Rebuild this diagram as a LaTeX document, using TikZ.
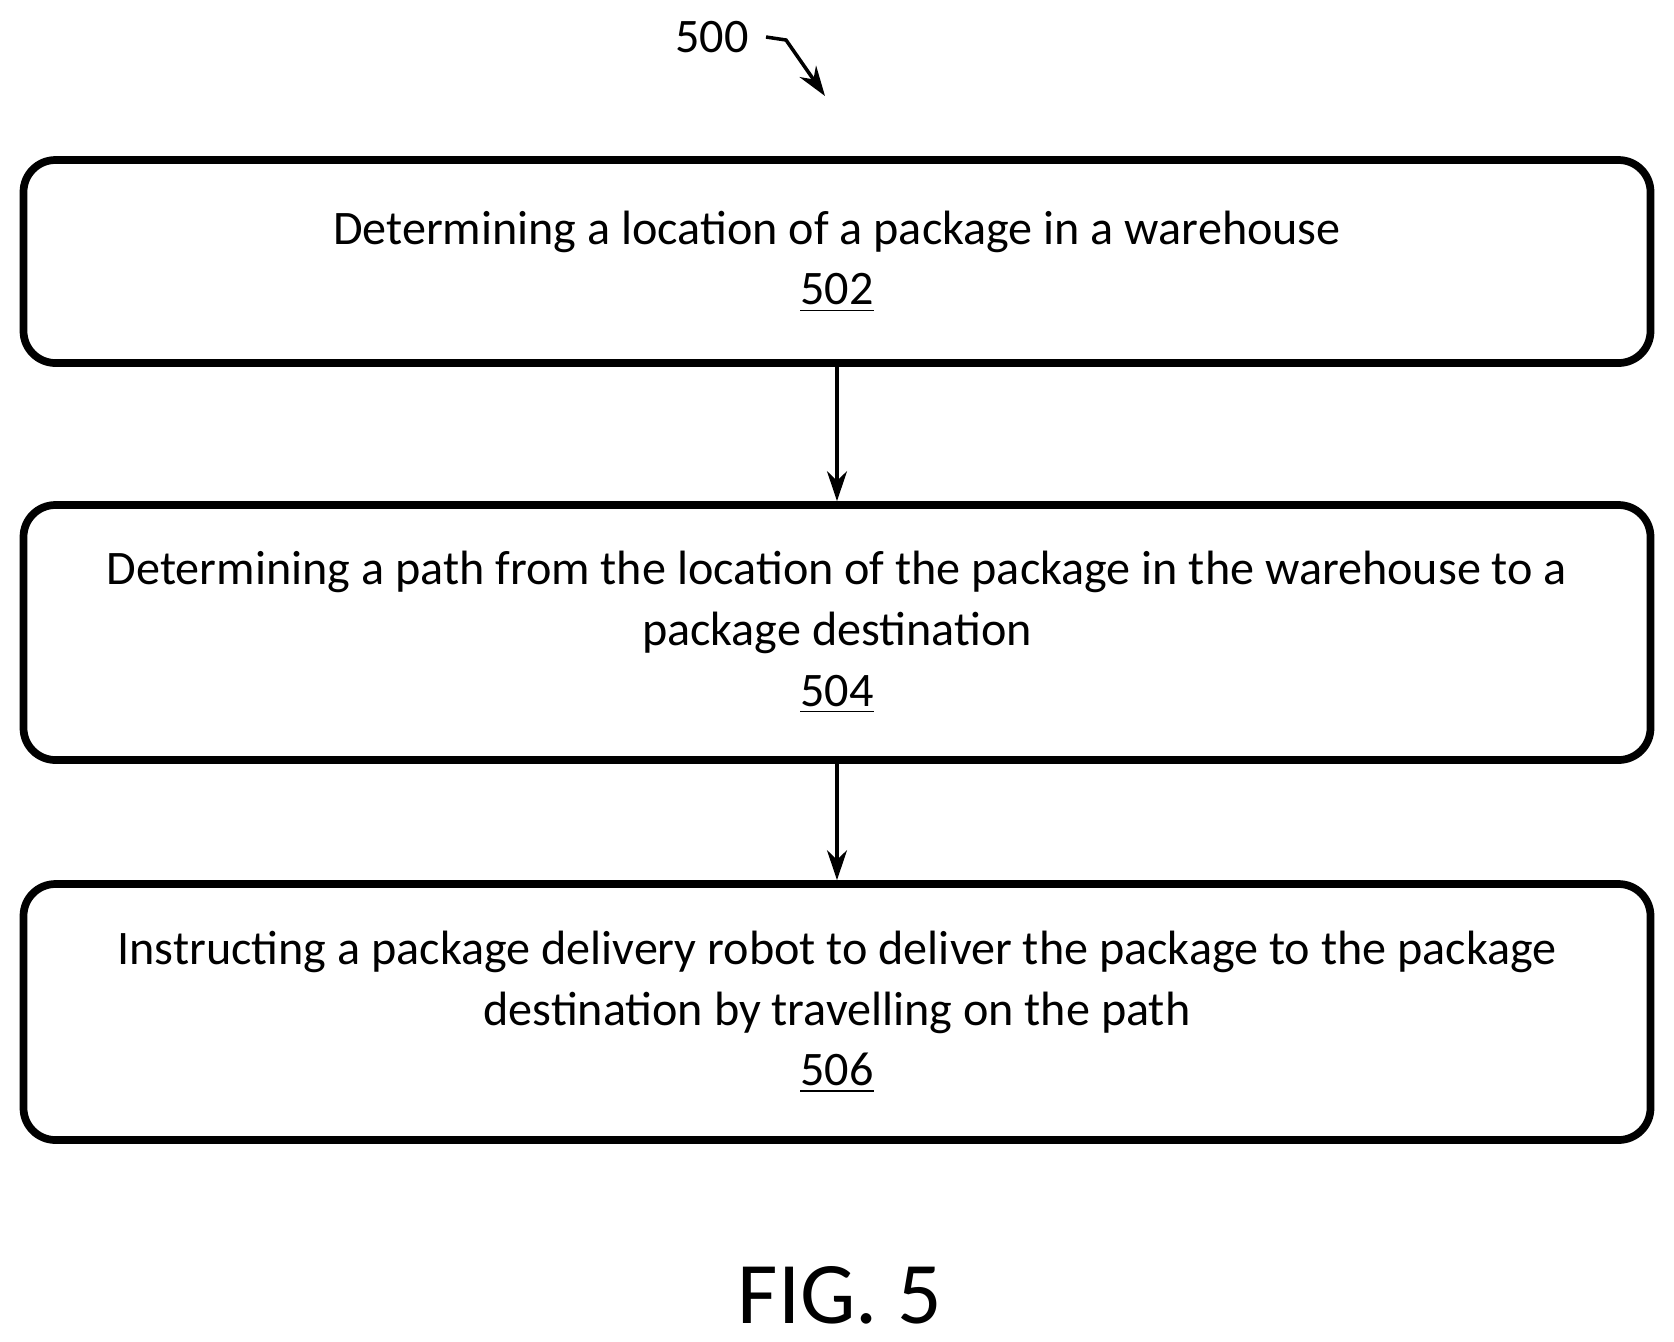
\documentclass[tikz,border=0pt]{standalone}
\usepackage{fontspec}
\setmainfont{Carlito}
\usetikzlibrary{positioning,arrows.meta}
\tikzset{
	stage/.style={draw, line width=2.2pt, rounded corners=0.32cm,
		minimum width=16.27cm, align=center,
		font=\fontsize{13.7}{17.3}\selectfont},
	flow/.style={-{Stealth[length=0.3cm,width=0.2cm]}, line width=1pt},
}
\begin{document}
\begin{tikzpicture}
\useasboundingbox (0,0) rectangle (16.74,-13.41);

% Label
\node [font=\fontsize{13.7}{17.3}\selectfont] (fig) at (7.12,-0.37) {500};
\coordinate (tip) at (8.25,-0.96);
\draw[flow] (fig.east) ++(0.05,0) -- ++(0.2,-0.03) -- (tip);

% Stages
\node [stage, minimum height=2.03cm] (s502) at (8.37,-2.615) {
Determining a location of a package in a warehouse\\\underline{502}
};
\node [stage, minimum height=2.55cm] (s504) at (8.37,-6.325) {
Determining a path from the location of the package in the warehouse to a\\package destination\\\underline{504}
};
\node [stage, minimum height=2.56cm] (s506) at (8.37,-10.12) {
Instructing a package delivery robot to deliver the package to the package\\destination by travelling on the path\\\underline{506}
};

% Arrows
\draw[flow] (s502) -- (s504);
\draw[flow] (s504) -- (s506);

% Caption
\node [font=\fontsize{25}{28}\selectfont] (cap) at (8.4,-12.95) {FIG. 5};

\end{tikzpicture}
\end{document}
